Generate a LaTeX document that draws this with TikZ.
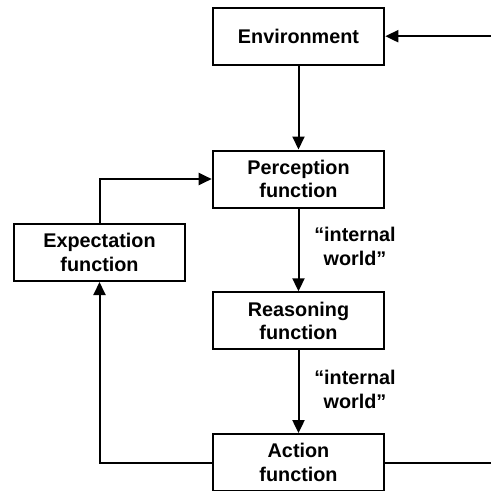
\documentclass[tikz,border=0pt]{standalone}
\usepackage{fontspec}
\setmainfont{Liberation Sans}
\usetikzlibrary{arrows.meta}
\begin{document}
\begin{tikzpicture}[x=1pt,y=-1pt,
  box/.style={draw, line width=2pt, minimum width=171.6pt, minimum height=57pt, inner sep=0pt, align=center, font=\bfseries\fontsize{19.8}{23.5}\selectfont},
  conn/.style={line width=2pt},
  arr/.style={conn, -{Triangle[length=13pt,width=12pt]}},
  lbl/.style={align=center, font=\bfseries\fontsize{19.8}{24}\selectfont, inner sep=0pt}]
\useasboundingbox (0,0) rectangle (491,491);
\node[box] (env) at (298.5,36.2) {Environment};
\node[box] (perc) at (298.5,179) {Perception\\function};
\node[box] (exp) at (99.5,252.5) {Expectation\\function};
\node[box] (reas) at (298.5,320.8) {Reasoning\\function};
\node[box] (act) at (298.5,462.6) {Action\\function};
\coordinate (rin) at (494,36.2);
\coordinate (rout) at (494,462.6);
\draw[arr] (rin) -- (env.east);
\draw[arr] (env) -- (perc);
\draw[arr] (perc) -- (reas);
\draw[arr] (reas) -- (act);
\draw[arr] (act.west) -| (exp.south);
\draw[arr] (exp.north) |- (perc.west);
\draw[conn] (act.east) -- (rout);
\node[lbl] (l1) at (355,246) {“internal\\world”};
\node[lbl] (l2) at (355,389) {“internal\\world”};
\end{tikzpicture}
\end{document}
